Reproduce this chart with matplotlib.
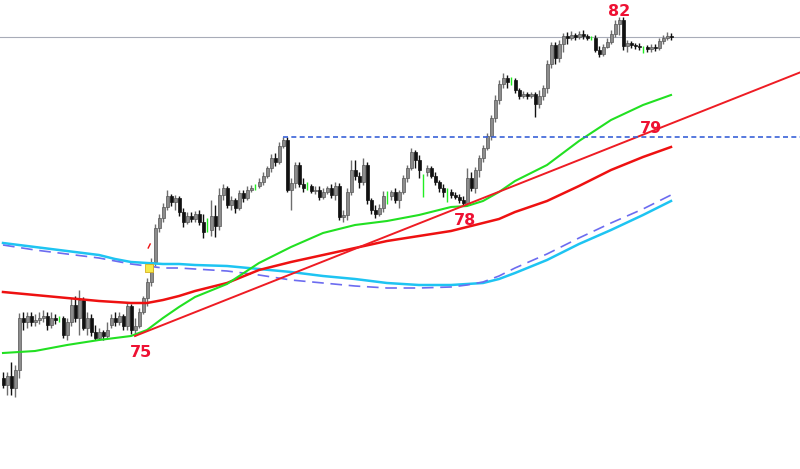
import matplotlib
matplotlib.use("Agg")
import matplotlib.pyplot as plt
import numpy as np

# candle data (price units), one entry per bar
opens = [91, 84, 93, 81, 99, 151, 147, 153, 147, 149, 151, 153, 144, 151, 150, 151, 134, 147, 164, 151,
         169, 141, 151, 137, 131, 137, 133, 144, 151, 147, 153, 143, 163, 139, 143, 157, 171, 187, 207, 241,
         251, 262, 273, 267, 271, 257, 247, 253, 250, 255, 247, 239, 239, 253, 243, 274, 281, 264, 269, 261,
         276, 271, 279, 282, 283, 287, 293, 301, 311, 307, 323, 329, 279, 286, 304, 285, 283, 283, 278, 279,
         272, 277, 281, 274, 283, 252, 254, 277, 299, 293, 287, 304, 269, 259, 255, 261, 273, 273, 277, 269,
         277, 291, 301, 317, 309, 293, 297, 301, 293, 287, 281, 277, 277, 274, 272, 269, 266, 291, 281, 299,
         311, 321, 333, 351, 369, 385, 391, 389, 389, 379, 373, 375, 373, 375, 365, 373, 381, 405, 424, 411,
         425, 433, 431, 434, 432, 435, 433, 431, 431, 419, 415, 422, 427, 435, 445, 449, 423, 426, 424, 423,
         421, 422, 420, 422, 421, 428, 431, 433]
highs = [97, 97, 107, 104, 156, 157, 157, 157, 155, 157, 159, 157, 157, 155, 153, 153, 151, 171, 173, 179,
         172, 157, 155, 144, 141, 139, 147, 155, 157, 157, 155, 167, 165, 151, 161, 173, 191, 211, 245, 255,
         266, 279, 275, 274, 273, 261, 257, 257, 258, 259, 255, 251, 269, 264, 281, 285, 283, 273, 271, 279,
         279, 283, 284, 285, 291, 297, 303, 315, 316, 327, 332, 332, 291, 307, 307, 291, 287, 285, 283, 283,
         281, 283, 285, 287, 286, 259, 281, 309, 309, 297, 311, 307, 271, 264, 265, 278, 278, 279, 281, 279,
         294, 304, 321, 319, 314, 295, 304, 303, 297, 289, 285, 281, 280, 277, 275, 273, 301, 297, 302, 314,
         324, 336, 354, 374, 389, 396, 394, 392, 391, 381, 378, 377, 377, 377, 379, 384, 409, 427, 427, 429,
         436, 437, 438, 436, 438, 439, 435, 433, 434, 423, 425, 431, 439, 449, 452, 452, 429, 428, 426, 426,
         423, 424, 425, 425, 431, 434, 437, 436]
lows = [81, 74, 74, 72, 91, 139, 141, 143, 143, 145, 147, 139, 141, 145, 147, 131, 129, 143, 147, 134,
        139, 134, 133, 129, 129, 129, 131, 141, 143, 144, 139, 139, 135, 133, 141, 155, 163, 183, 203, 237,
        247, 259, 263, 259, 253, 242, 245, 247, 247, 244, 231, 237, 233, 232, 239, 269, 261, 259, 256, 259,
        267, 269, 277, 279, 281, 284, 291, 297, 303, 305, 321, 277, 259, 281, 282, 277, 279, 276, 275, 269,
        270, 275, 271, 269, 249, 247, 249, 274, 289, 281, 284, 265, 255, 251, 253, 257, 265, 269, 266, 261,
        275, 287, 299, 301, 291, 272, 293, 291, 284, 277, 272, 267, 271, 270, 266, 263, 264, 278, 276, 292,
        307, 319, 329, 347, 365, 381, 381, 384, 376, 370, 371, 370, 371, 352, 361, 369, 376, 401, 405, 407,
        417, 425, 429, 429, 430, 430, 429, 429, 417, 412, 413, 421, 425, 432, 434, 419, 417, 421, 420, 419,
        416, 417, 417, 418, 419, 425, 429, 429]
closes = [84, 93, 81, 99, 151, 147, 153, 147, 149, 151, 153, 144, 151, 149, 150, 134, 147, 164, 151, 169,
          141, 151, 137, 131, 137, 133, 139, 151, 147, 153, 143, 163, 139, 143, 157, 171, 187, 207, 241, 251,
          262, 273, 267, 271, 257, 247, 253, 250, 255, 247, 237, 239, 253, 243, 274, 281, 264, 269, 261, 276,
          271, 279, 281, 282, 287, 293, 301, 311, 307, 323, 329, 279, 286, 304, 285, 281, 283, 278, 279, 272,
          277, 281, 274, 283, 252, 254, 277, 299, 293, 287, 304, 269, 259, 255, 261, 273, 273, 277, 269, 277,
          291, 301, 317, 309, 299, 293, 301, 293, 287, 281, 277, 277, 274, 272, 269, 266, 291, 281, 299, 311,
          321, 333, 351, 369, 385, 391, 387, 389, 379, 373, 375, 373, 375, 365, 373, 381, 405, 424, 411, 425,
          433, 431, 434, 432, 435, 433, 431, 431, 419, 415, 422, 427, 435, 445, 449, 423, 426, 424, 423, 422,
          421, 420, 422, 421, 428, 431, 433, 432]

# moving averages sampled at these bar indices
ma_idx = [0, 8, 16, 24, 28, 32, 36, 40, 44, 48, 56, 64, 72, 80, 88, 96, 104, 112, 116, 120, 124, 128, 136, 144, 152, 160, 167]
ma_green = [116, 118, 124, 129, 131, 133, 139, 151, 162, 172, 185, 206, 222, 236, 244, 248, 254, 262, 263, 268, 277, 288, 304, 328, 349, 364, 374]
ma_red = [177, 174, 171, 168, 167, 166, 166, 169, 173, 178, 186, 199, 207, 214, 221, 228, 233, 238, 242, 246, 250, 257, 268, 283, 299, 312, 322]
ma_cyan = [226, 222, 218, 214, 210, 207, 206, 205, 205, 204, 203, 200, 197, 193, 190, 186, 184, 184, 185, 186, 190, 196, 209, 225, 239, 254, 268]
ma_dash = [224, 219, 215, 211, 208, 205, 203, 201, 201, 200, 198, 194, 189, 186, 183, 181, 181, 182, 184, 187, 193, 201, 215, 231, 246, 260, 274]

# trendline anchors (bar, price) and levels
trend_pts = [(33, 133), (115, 263)]
resist_bar = 70
resist_level = 332
grid_level = 432

# swing labels: text, bar, price
labels = [("75", 34.5, 117), ("78", 115.5, 249), ("79", 162, 341), ("82", 154, 458)]

fig = plt.figure(figsize=(8, 4.69), dpi=100)
ax = fig.add_axes([0, 0, 1, 1])
ax.set_xlim(-0.75, 199.25)
ax.set_ylim(0, 469)
ax.axis("off")

ax.axhline(grid_level, color="#a8acb8", lw=0.8, zorder=1)

x = np.arange(len(closes))
o = np.array(opens); c = np.array(closes); h = np.array(highs); l = np.array(lows)
up = c > o
dn = c < o
dj = c == o

ax.vlines(x[up], l[up], h[up], color="#6e6e6e", lw=1, zorder=3)
ax.vlines(x[dn], l[dn], h[dn], color="#111111", lw=1, zorder=3)
ax.vlines(x[dj], l[dj], h[dj], color="#22ee22", lw=1, zorder=3)
ax.bar(x[up], (c - o)[up], bottom=o[up], width=0.75, color="#8c8c8c", edgecolor="#555555", lw=0.5, zorder=4)
ax.bar(x[dn], (o - c)[dn], bottom=c[dn], width=0.75, color="#111111", edgecolor="#111111", lw=0.5, zorder=4)

ax.plot(ma_idx, ma_cyan, color="#1ec4f2", lw=1.8, zorder=5)
ax.plot(ma_idx, ma_dash, color="#6c6cf0", lw=1.2, ls=(0, (7, 4)), zorder=5)
ax.plot(ma_idx, ma_red, color="#ee1111", lw=1.8, zorder=5)
ax.plot(ma_idx, ma_green, color="#22e022", lw=1.5, zorder=5)

(b0, p0), (b1, p1) = trend_pts
slope = (p1 - p0) / (b1 - b0)
tx = np.array([b0, 199.25])
ax.plot(tx, p0 + slope * (tx - b0), color="#ee1c24", lw=1.4, zorder=6)

ax.hlines(resist_level, resist_bar, 199.25, color="#3a62d8", lw=1.2, ls=(0, (3, 2)), zorder=6)

# small markers near the breakout bar
ax.plot([36.3, 36.8], [221, 225], color="#ee1111", lw=1, zorder=6)
ax.scatter([36.5], [201], marker="s", s=28, color="#f4e94a", edgecolor="#d8b020", lw=0.6, zorder=7)

for txt, bx, py in labels:
    ax.text(bx, py, txt, color="#ee1133", fontsize=11.5, fontweight="bold",
            ha="center", va="center", zorder=8)

fig.savefig("out.png", dpi=100, facecolor="white")
